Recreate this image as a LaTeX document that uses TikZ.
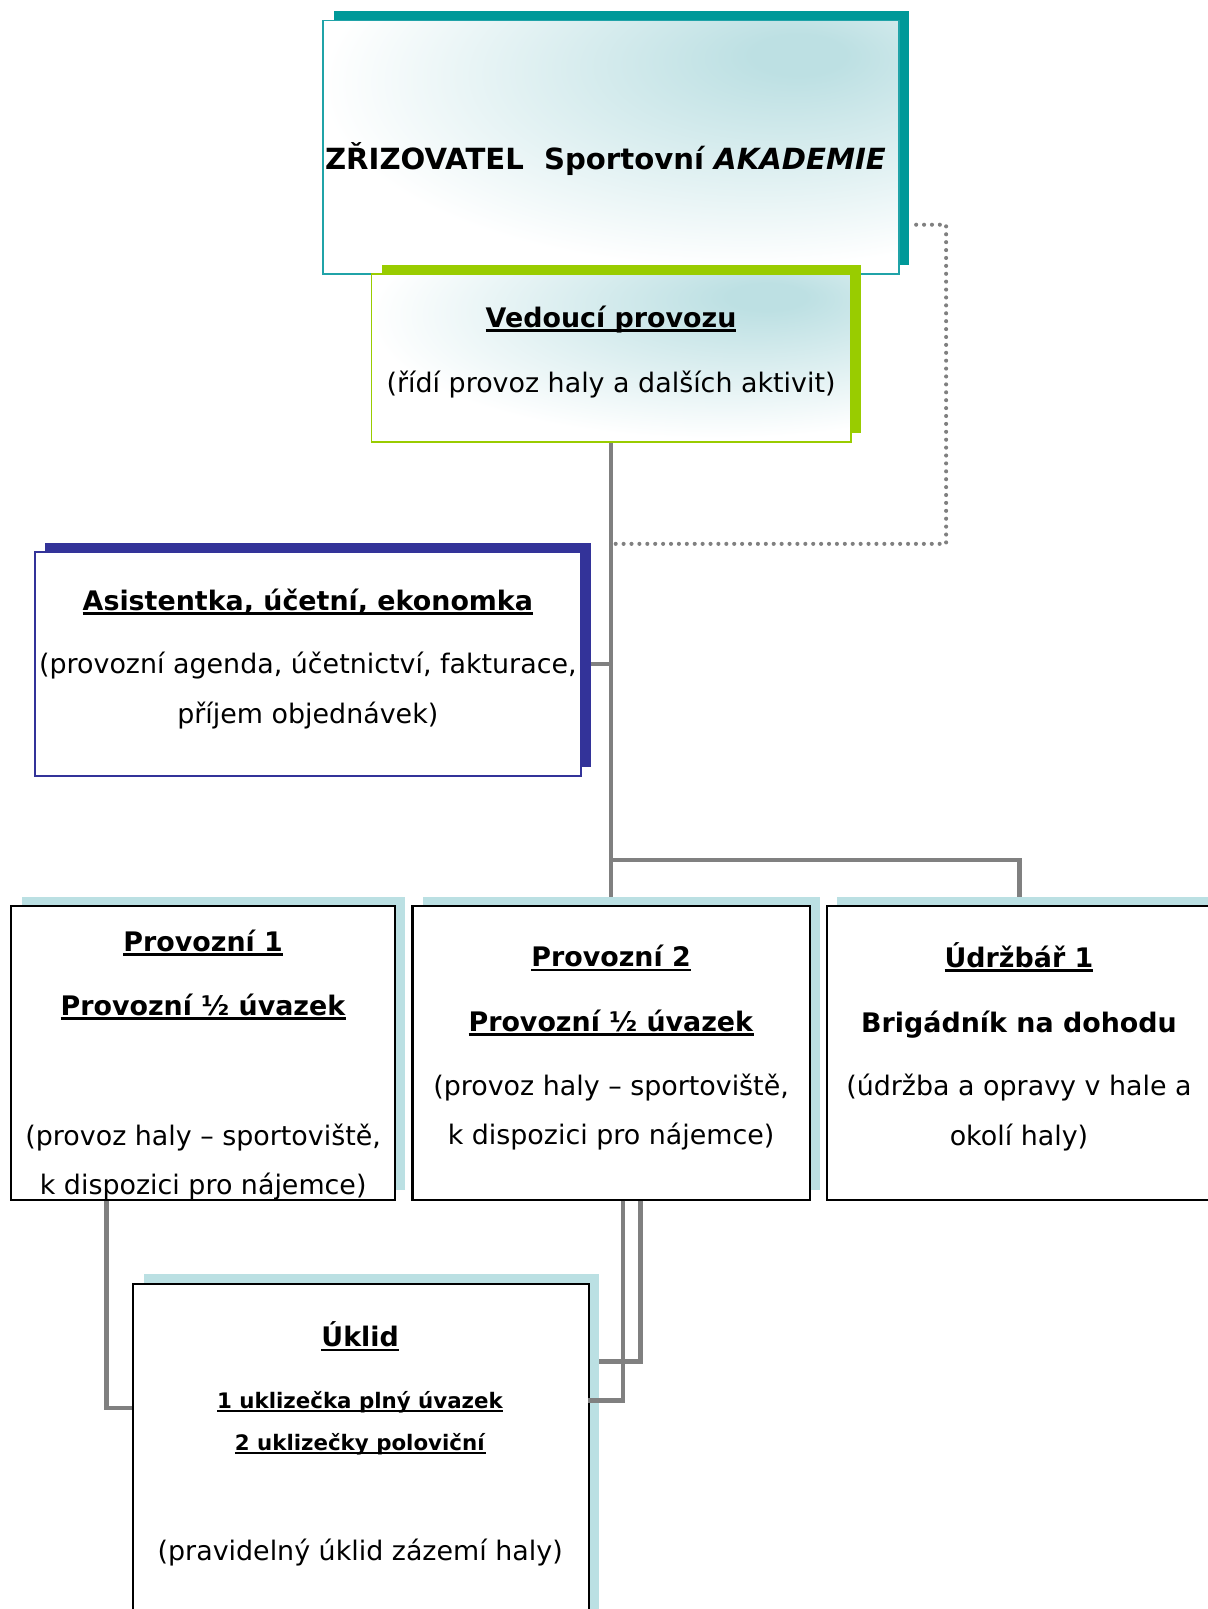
\documentclass[tikz,border=0pt]{standalone}
\usepackage{fontspec}
\setmainfont{DejaVu Sans}
\usepackage{tikz}
\usetikzlibrary{shadows,backgrounds,calc}
\definecolor{tealsh}{RGB}{0,153,153}
\definecolor{tealfr}{RGB}{32,163,168}
\definecolor{limesh}{RGB}{153,204,0}
\definecolor{navysh}{RGB}{51,51,153}
\definecolor{palesh}{RGB}{187,224,227}
\definecolor{glowc}{RGB}{189,224,227}
\definecolor{linegr}{RGB}{128,128,128}
\pgfdeclareradialshading{glow}{\pgfpoint{17bp}{19bp}}{color(0bp)=(glowc);color(4bp)=(glowc);color(36bp)=(white);color(100bp)=(white)}
\newcommand{\hdr}[1]{\setbox0\hbox{\textbf{#1}}\rlap{\rule[-0.17em]{\wd0}{0.1em}}\box0}

\begin{document}
\begin{tikzpicture}[x=0.5pt,y=-0.5pt,
box/.style={rectangle, inner sep=0pt, line width=1pt, draw=black, fill=white},
sh/.style={general shadow={fill=#1, shadow xshift=5pt, shadow yshift=4.5pt}},
txt/.style={inner sep=0pt, align=center, font=\fontsize{13.1}{24}\selectfont},
conn/.style={draw=linegr, line width=2.2pt},
dotline/.style={draw=linegr, line width=2pt, line cap=round, dash pattern=on 0pt off 3.85pt}]
\useasboundingbox (0,0) rectangle (1177,1568);
\clip (0,0) rectangle (1177,1568);

\node[box, sh=tealsh, draw=tealfr, line width=0.8pt, shade, shading=glow, minimum width=280.5pt, minimum height=123.5pt] (top) at (595.5,143.5) {};
\node[box, sh=limesh, draw=limesh, line width=0.8pt, shade, shading=glow, minimum width=233.5pt, minimum height=82pt] (ved) at (595.5,349) {};
\node[box, sh=navysh, draw=navysh, line width=0.8pt, minimum width=266pt, minimum height=109pt] (asi) at (300,647) {};
\node[box, sh=palesh, minimum width=187pt, minimum height=143pt] (p1) at (198,1026) {};
\node[box, sh=palesh, minimum width=193.5pt, minimum height=143pt] (p2) at (595.5,1026) {};
\node[box, sh=palesh, minimum width=187.5pt, minimum height=143pt] (udr) at (993.5,1026) {};
\node[box, sh=palesh, minimum width=222pt, minimum height=174.5pt] (ukl) at (352,1425.5) {};

\node[txt, font=\fontsize{14.2}{24}\selectfont] (toptxt) at (590,155) {\textbf{ZŘIZOVATEL\ \ Sportovní \textit{AKADEMIE}}};
\node[txt] (vedtxt) at (595.5,343) {\hdr{Vedoucí provozu}\\[7.5pt](řídí provoz haly a dalších aktivit)};
\node[txt] (asitxt) at (300,642) {\hdr{Asistentka, účetní, ekonomka}\\[7pt](provozní agenda, účetnictví, fakturace,\\příjem objednávek)};
\node[txt] (p1txt) at (198,1038) {\hdr{Provozní 1}\\[7pt]\hdr{Provozní ½ úvazek}\\[39.5pt](provoz haly – sportoviště,\\k dispozici pro nájemce)};
\node[txt] (p2txt) at (595.5,1021) {\hdr{Provozní 2}\\[7.5pt]\hdr{Provozní ½ úvazek}\\[7pt](provoz haly – sportoviště,\\k dispozici pro nájemce)};
\node[txt] (udrtxt) at (993,1020) {\hdr{Údržbář 1}\\[7.5pt]\textbf{Brigádník na dohodu}\\[7pt](údržba a opravy v hale a\\okolí haly)};
\node[txt] (ukltxt) at (351,1407) {\hdr{Úklid}\\[6pt]{\fontsize{10.4}{12}\selectfont\hdr{1 uklizečka plný úvazek}}\\[-3.5pt]{\fontsize{10.4}{12}\selectfont\hdr{2 uklizečky poloviční}}\\[29.5pt](pravidelný úklid zázemí haly)};

\begin{scope}[on background layer]
\coordinate (split) at (595.5,838);
\coordinate (dotend) at (600,530);
\draw[conn] (ved.south) -- (p2.north);
\draw[conn] (asi.east) -- (asi.east -| ved.south);
\draw[conn] (split) -| (udr.north);
\draw[dotline] ([xshift=8pt,yshift=-37.75pt]top.east) -| ([xshift=161pt]dotend) -- (dotend);
\draw[conn] ([xshift=-47pt]p1.south) |- ([yshift=26.75pt]ukl.west);
\draw[conn] ([xshift=14.25pt]p2.south) |- ([yshift=49.25pt]ukl.east);
\end{scope}
\draw[conn] ([xshift=5.75pt]p2.south) |- ([xshift=-1pt,yshift=30.25pt]ukl.east);
\end{tikzpicture}
\end{document}
